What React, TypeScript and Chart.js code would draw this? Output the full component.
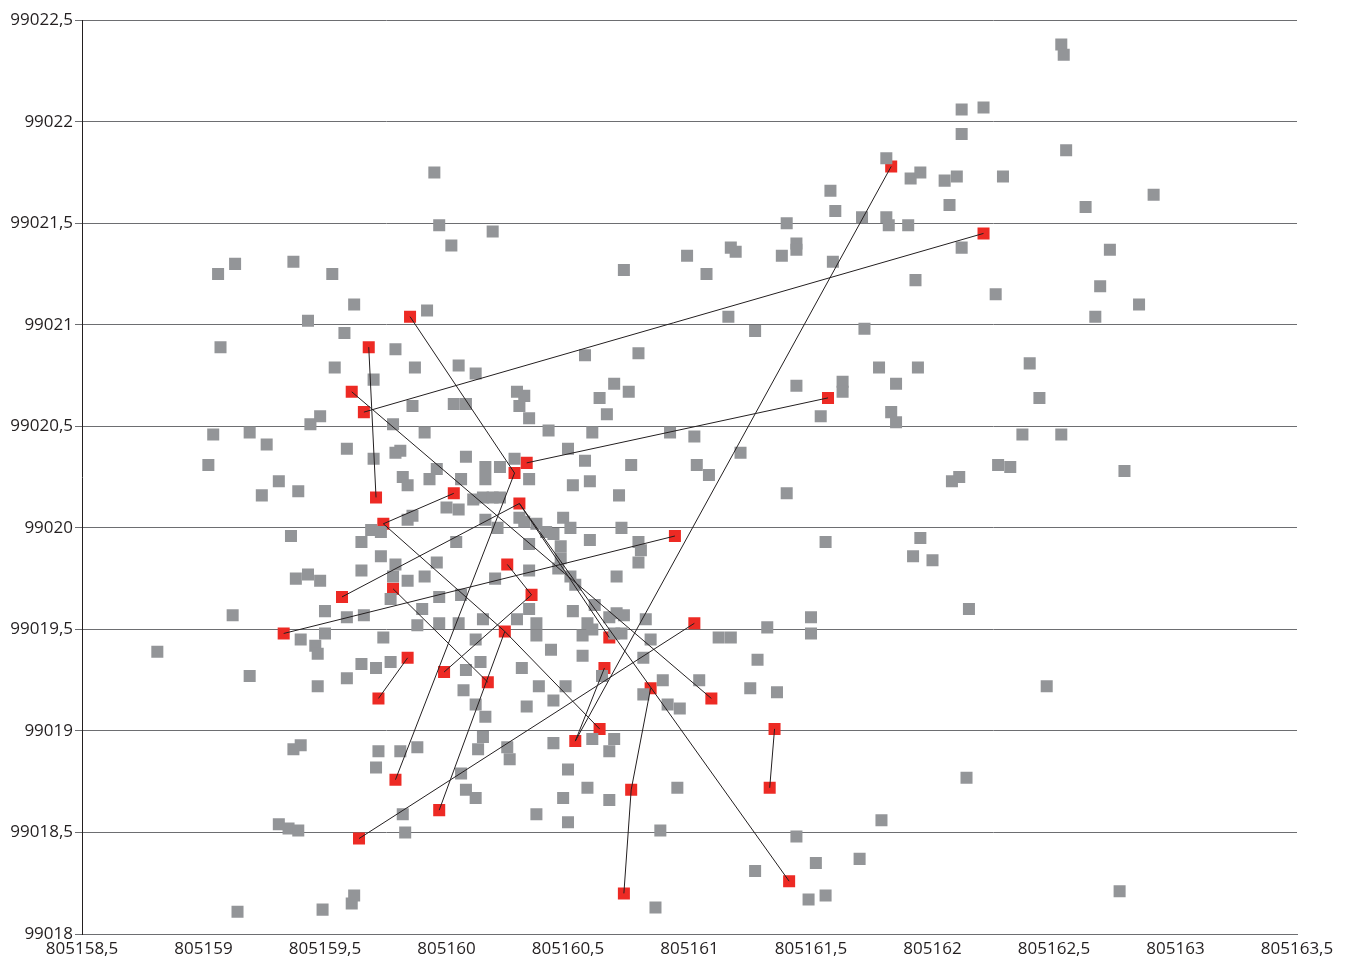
import { useEffect, useRef } from "react";
import { Chart, registerables } from "chart.js";

Chart.register(...registerables);

// grey points: [x, y]
const greyPoints: [number, number][] = [
  [805162.53, 99022.38], [805162.54, 99022.33], [805162.21, 99022.07], [805162.12, 99022.06],
  [805162.55, 99021.86], [805162.12, 99021.94], [805161.81, 99021.82], [805161.91, 99021.72],
  [805161.95, 99021.75], [805162.05, 99021.71], [805162.1, 99021.73], [805162.29, 99021.73],
  [805161.58, 99021.66], [805162.91, 99021.64], [805161.6, 99021.56], [805162.07, 99021.59],
  [805162.63, 99021.58], [805161.71, 99021.53], [805161.81, 99021.53], [805161.82, 99021.49],
  [805161.9, 99021.49], [805161.4, 99021.5], [805161.44, 99021.4], [805161.44, 99021.37],
  [805161.38, 99021.34], [805161.17, 99021.38], [805161.19, 99021.36], [805162.12, 99021.38],
  [805162.73, 99021.37], [805160.99, 99021.34], [805161.59, 99021.31], [805161.07, 99021.25],
  [805160.73, 99021.27], [805162.69, 99021.19], [805161.93, 99021.22], [805162.26, 99021.15],
  [805162.85, 99021.1], [805161.16, 99021.04], [805162.67, 99021.04], [805161.72, 99020.98],
  [805161.27, 99020.97],
  [805159.95, 99021.75], [805159.97, 99021.49], [805160.02, 99021.39], [805160.19, 99021.46],
  [805159.06, 99021.25], [805159.13, 99021.3], [805159.37, 99021.31], [805159.53, 99021.25],
  [805159.62, 99021.1], [805159.92, 99021.07], [805159.43, 99021.02], [805159.58, 99020.96],
  [805159.07, 99020.89], [805159.79, 99020.88], [805159.54, 99020.79], [805159.7, 99020.73],
  [805159.87, 99020.79], [805160.05, 99020.8], [805160.12, 99020.76], [805160.57, 99020.85],
  [805160.79, 99020.86], [805160.69, 99020.71], [805160.75, 99020.67], [805160.63, 99020.64],
  [805160.29, 99020.67], [805160.32, 99020.65], [805160.3, 99020.6], [805159.86, 99020.6],
  [805160.03, 99020.61], [805160.08, 99020.61], [805160.34, 99020.54], [805160.66, 99020.56],
  [805161.44, 99020.7], [805161.63, 99020.72], [805161.63, 99020.67], [805161.78, 99020.79],
  [805161.85, 99020.71], [805161.94, 99020.79], [805162.4, 99020.81], [805162.44, 99020.64],
  [805161.54, 99020.55], [805161.83, 99020.57], [805161.85, 99020.52], [805159.44, 99020.51],
  [805159.48, 99020.55], [805159.78, 99020.51], [805159.91, 99020.47], [805159.04, 99020.46],
  [805159.19, 99020.47], [805159.26, 99020.41], [805159.59, 99020.39], [805159.7, 99020.34],
  [805159.81, 99020.38], [805159.79, 99020.37], [805160.08, 99020.35], [805160.42, 99020.48],
  [805160.6, 99020.47], [805160.92, 99020.47], [805161.02, 99020.45], [805161.21, 99020.37],
  [805162.37, 99020.46], [805162.53, 99020.46], [805159.02, 99020.31], [805159.31, 99020.23],
  [805159.24, 99020.16], [805159.39, 99020.18], [805159.82, 99020.25], [805159.96, 99020.29],
  [805159.84, 99020.21], [805159.93, 99020.24], [805160.06, 99020.24], [805160.16, 99020.3],
  [805160.16, 99020.24], [805160.22, 99020.3], [805160.28, 99020.34], [805160.34, 99020.24],
  [805160.5, 99020.39], [805160.57, 99020.33], [805160.59, 99020.23], [805160.52, 99020.21],
  [805160.76, 99020.31], [805161.03, 99020.31], [805161.08, 99020.26], [805162.27, 99020.31],
  [805162.32, 99020.3], [805162.11, 99020.25], [805162.08, 99020.23], [805162.79, 99020.28],
  [805161.4, 99020.17], [805160.71, 99020.16], [805160.0, 99020.1], [805160.05, 99020.09],
  [805160.11, 99020.14], [805160.15, 99020.15], [805160.19, 99020.15], [805160.22, 99020.15],
  [805160.16, 99020.04], [805160.21, 99020.0], [805160.3, 99020.05], [805160.32, 99020.03],
  [805160.37, 99020.02], [805160.41, 99019.98], [805160.44, 99019.97], [805160.48, 99020.05],
  [805160.51, 99020.0], [805160.59, 99019.94], [805160.34, 99019.92], [805160.72, 99020.0],
  [805160.79, 99019.93], [805160.8, 99019.89], [805159.84, 99020.04], [805159.86, 99020.06],
  [805159.69, 99019.99], [805159.73, 99019.98], [805159.36, 99019.96], [805159.65, 99019.93],
  [805160.04, 99019.93], [805161.56, 99019.93], [805161.95, 99019.95], [805161.92, 99019.86],
  [805162.0, 99019.84], [805160.47, 99019.91], [805160.47, 99019.85], [805160.46, 99019.8],
  [805160.51, 99019.76], [805160.53, 99019.72], [805160.7, 99019.76], [805160.79, 99019.83],
  [805159.79, 99019.82], [805159.73, 99019.86], [805159.65, 99019.79], [805159.43, 99019.77],
  [805159.38, 99019.75], [805159.48, 99019.74], [805159.96, 99019.83], [805159.91, 99019.76],
  [805159.78, 99019.76], [805159.84, 99019.74], [805160.2, 99019.75], [805160.34, 99019.79],
  [805160.06, 99019.67], [805159.97, 99019.66], [805159.77, 99019.65], [805159.9, 99019.6],
  [805159.5, 99019.59], [805159.59, 99019.56], [805159.66, 99019.57], [805159.12, 99019.57],
  [805162.15, 99019.6], [805160.34, 99019.6], [805160.52, 99019.59], [805160.61, 99019.62],
  [805160.67, 99019.56], [805160.7, 99019.58], [805160.73, 99019.57], [805160.82, 99019.55],
  [805160.58, 99019.53], [805160.37, 99019.53], [805160.29, 99019.55], [805160.15, 99019.55],
  [805160.05, 99019.53], [805159.88, 99019.52], [805159.97, 99019.53], [805159.4, 99019.45],
  [805159.5, 99019.48], [805159.46, 99019.42], [805159.47, 99019.38], [805159.74, 99019.46],
  [805160.12, 99019.45], [805160.37, 99019.47], [805160.43, 99019.4], [805160.56, 99019.47],
  [805160.6, 99019.5], [805160.69, 99019.48], [805160.72, 99019.48], [805160.84, 99019.45],
  [805161.12, 99019.46], [805161.17, 99019.46], [805161.32, 99019.51], [805161.5, 99019.56],
  [805161.5, 99019.48], [805159.65, 99019.33], [805159.77, 99019.34], [805159.71, 99019.31],
  [805159.59, 99019.26], [805159.19, 99019.27], [805159.47, 99019.22], [805160.08, 99019.3],
  [805160.14, 99019.34], [805160.31, 99019.31], [805160.56, 99019.37], [805160.81, 99019.36],
  [805160.64, 99019.27], [805160.89, 99019.25], [805160.81, 99019.18], [805160.91, 99019.13],
  [805160.96, 99019.11], [805161.04, 99019.25], [805161.25, 99019.21], [805161.36, 99019.19],
  [805161.28, 99019.35], [805160.07, 99019.2], [805160.12, 99019.13], [805160.16, 99019.07],
  [805160.33, 99019.12], [805160.38, 99019.22], [805160.44, 99019.15], [805160.49, 99019.22],
  [805160.15, 99018.97], [805160.13, 99018.91], [805160.25, 99018.92], [805160.26, 99018.86],
  [805160.44, 99018.94], [805160.5, 99018.81], [805160.6, 99018.96], [805160.67, 99018.9],
  [805160.69, 99018.96], [805159.37, 99018.91], [805159.4, 99018.93], [805159.71, 99018.82],
  [805159.72, 99018.9], [805159.81, 99018.9], [805159.88, 99018.92], [805160.06, 99018.79],
  [805160.08, 99018.71], [805160.12, 99018.67], [805160.48, 99018.67], [805160.58, 99018.72],
  [805160.67, 99018.66], [805160.95, 99018.72], [805160.37, 99018.59], [805160.5, 99018.55],
  [805159.82, 99018.59], [805159.83, 99018.5], [805159.31, 99018.54], [805159.35, 99018.52],
  [805159.39, 99018.51], [805160.88, 99018.51], [805161.44, 99018.48], [805161.79, 99018.56],
  [805161.52, 99018.35], [805161.27, 99018.31], [805161.7, 99018.37], [805161.56, 99018.19],
  [805161.49, 99018.17], [805160.86, 99018.13], [805162.47, 99019.22], [805162.14, 99018.77],
  [805162.77, 99018.21], [805159.62, 99018.19], [805159.61, 99018.15], [805159.49, 99018.12],
  [805159.14, 99018.11], [805158.81, 99019.39],
];

// red points, numbered 1..39
const redPoints: [number, number][] = [
  [805161.83, 99021.78], [805162.21, 99021.45], [805159.85, 99021.04], [805159.68, 99020.89],
  [805159.61, 99020.67], [805159.66, 99020.57], [805161.57, 99020.64], [805160.33, 99020.32],
  [805160.28, 99020.27], [805159.71, 99020.15], [805160.03, 99020.17], [805160.3, 99020.12],
  [805159.74, 99020.02], [805160.94, 99019.96], [805160.25, 99019.82], [805159.57, 99019.66],
  [805159.78, 99019.7], [805160.35, 99019.67], [805159.33, 99019.48], [805160.24, 99019.49],
  [805161.02, 99019.53], [805160.67, 99019.46], [805159.84, 99019.36], [805159.99, 99019.29],
  [805160.65, 99019.31], [805160.17, 99019.24], [805160.84, 99019.21], [805159.72, 99019.16],
  [805161.09, 99019.16], [805160.63, 99019.01], [805161.35, 99019.01], [805160.53, 99018.95],
  [805159.79, 99018.76], [805160.76, 99018.71], [805161.33, 99018.72], [805159.97, 99018.61],
  [805159.64, 99018.47], [805161.41, 99018.26], [805160.73, 99018.2],
];

// links between red points (1-based)
const links: [number, number][] = [
  [2, 6], [1, 32], [3, 9], [4, 10], [5, 29], [8, 7], [9, 33], [11, 13],
  [16, 12], [12, 22], [12, 38], [13, 20], [17, 26], [20, 30], [19, 14], [15, 18],
  [18, 24], [20, 36], [23, 28], [37, 21], [25, 32], [39, 34], [34, 27], [35, 31],
];

const fmt = (v: number) => String(Math.round(v * 10) / 10).replace(".", ",");

export default function App() {
  const canvasRef = useRef<HTMLCanvasElement | null>(null);

  useEffect(() => {
    if (!canvasRef.current) return;
    const toXY = (p: [number, number]) => ({ x: p[0], y: p[1] });

    const lineSets = links.map(([a, b]) => ({
      type: "line" as const,
      data: [toXY(redPoints[a - 1]), toXY(redPoints[b - 1])],
      borderColor: "#231f20",
      borderWidth: 1,
      pointRadius: 0,
      showLine: true,
      fill: false,
    }));

    const chart = new Chart(canvasRef.current, {
      type: "scatter",
      data: {
        datasets: [
          ...lineSets,
          {
            data: greyPoints.map(toXY),
            backgroundColor: "#939598",
            borderWidth: 0,
            pointStyle: "rect",
            pointRadius: 8.5,
          },
          {
            data: redPoints.map(toXY),
            backgroundColor: "#ed2a24",
            borderWidth: 0,
            pointStyle: "rect",
            pointRadius: 8.5,
          },
        ] as any,
      },
      options: {
        animation: false,
        responsive: true,
        maintainAspectRatio: false,
        layout: { padding: { top: 12, right: 42, left: 0, bottom: 0 } },
        plugins: { legend: { display: false }, tooltip: { enabled: false } },
        scales: {
          x: {
            type: "linear",
            min: 805158.5,
            max: 805163.5,
            afterFit: (s: any) => { s.height = 28; },
            ticks: {
              stepSize: 0.5,
              color: "#231f20",
              padding: 5,
              font: { family: "Open Sans", size: 17 },
              callback: (v: any) => fmt(Number(v)),
              maxRotation: 0,
              autoSkip: false,
            },
            grid: { drawOnChartArea: false, drawTicks: false },
            border: { color: "#6d6e71" },
          },
          y: {
            type: "linear",
            min: 99018,
            max: 99022.5,
            afterFit: (s: any) => { s.width = 74; },
            ticks: {
              stepSize: 0.5,
              color: "#231f20",
              padding: 2,
              font: { family: "Open Sans", size: 17 },
              callback: (v: any) => fmt(Number(v)),
            },
            grid: { color: "#6d6e71", tickLength: 7 },
            border: { color: "#231f20" },
          },
        },
      },
    });
    return () => chart.destroy();
  }, []);

  return (
    <div style={{ width: 1331, height: 954 }}>
      <canvas ref={canvasRef} />
    </div>
  );
}
